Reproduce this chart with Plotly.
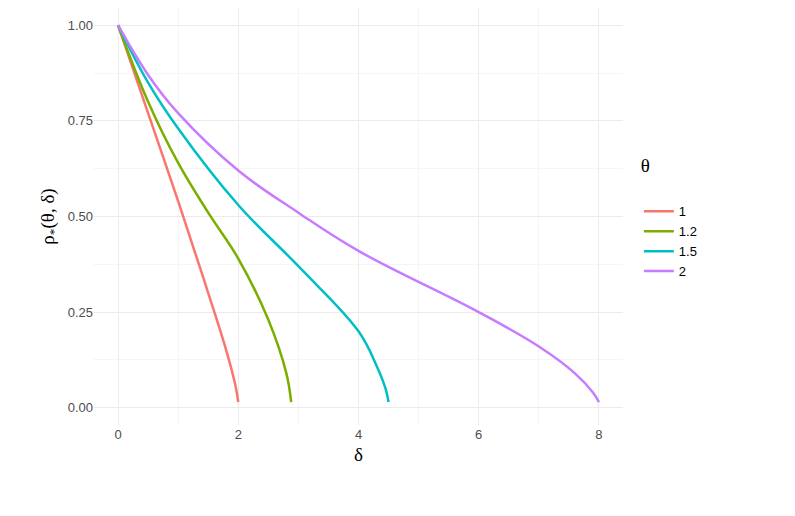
import plotly.graph_objects as go

# values
theta_labels = ['1', '1.2', '1.5', '2']
colors = ['#F8766D', '#7CAE00', '#00BFC4', '#C77CFF']

delta_1 = [0, 0.5, 1.0, 1.5, 1.8, 1.95, 2.0]
rho_1 = [1.0, 0.77, 0.54, 0.30, 0.15, 0.06, 0.015]

delta_12 = [0, 0.5, 1.0, 1.5, 2.0, 2.5, 2.8, 2.88]
rho_12 = [1.0, 0.80, 0.64, 0.51, 0.39, 0.23, 0.09, 0.015]

delta_15 = [0, 0.5, 1.0, 2.0, 3.0, 4.0, 4.3, 4.45, 4.5]
rho_15 = [1.0, 0.85, 0.73, 0.53, 0.37, 0.20, 0.11, 0.05, 0.015]

delta_2 = [0, 0.5, 1.0, 2.0, 3.0, 4.0, 6.0, 7.0, 7.6, 7.9, 8.0]
rho_2 = [1.0, 0.87, 0.77, 0.62, 0.51, 0.41, 0.25, 0.16, 0.09, 0.04, 0.015]

series = [(delta_1, rho_1), (delta_12, rho_12), (delta_15, rho_15), (delta_2, rho_2)]

fig = go.Figure()
for (x, y), name, c in zip(series, theta_labels, colors):
    fig.add_trace(go.Scatter(x=x, y=y, mode='lines', name=name,
                             line=dict(color=c, width=2.5, shape='spline', smoothing=1.1)))

axis_common = dict(showline=False, zeroline=False, gridcolor='#EBEBEB', ticks='',
                   tickfont=dict(size=13, color='#4D4D4D'))
fig.update_layout(
    width=795, height=516, template='none',
    plot_bgcolor='white', paper_bgcolor='white',
    font=dict(family='Liberation Sans', color='black'),
    margin=dict(l=86, r=180, t=0, b=99),
    xaxis=dict(axis_common, range=[-0.4, 8.4], tickvals=[0, 2, 4, 6, 8],
               minor=dict(tickvals=[1, 3, 5, 7], gridcolor='#F5F5F5', showgrid=True),
               title=dict(text='δ', font=dict(family='Liberation Serif', size=19), standoff=6)),
    yaxis=dict(axis_common, range=[-0.045, 1.045], tickvals=[0, 0.25, 0.5, 0.75, 1.0],
               ticktext=['0.00', '0.25', '0.50', '0.75', '1.00'],
               minor=dict(tickvals=[0.125, 0.375, 0.625, 0.875], gridcolor='#F5F5F5', showgrid=True),
               title=dict(text='ρ<sub>*</sub>(θ, δ)', font=dict(family='Liberation Serif', size=19), standoff=8)),
    legend=dict(title=dict(text='θ<br>', font=dict(family='Liberation Serif', size=19)),
                x=1.03, y=0.5, yanchor='middle', font=dict(size=13), tracegroupgap=2),
)

fig.write_html("out.html")
